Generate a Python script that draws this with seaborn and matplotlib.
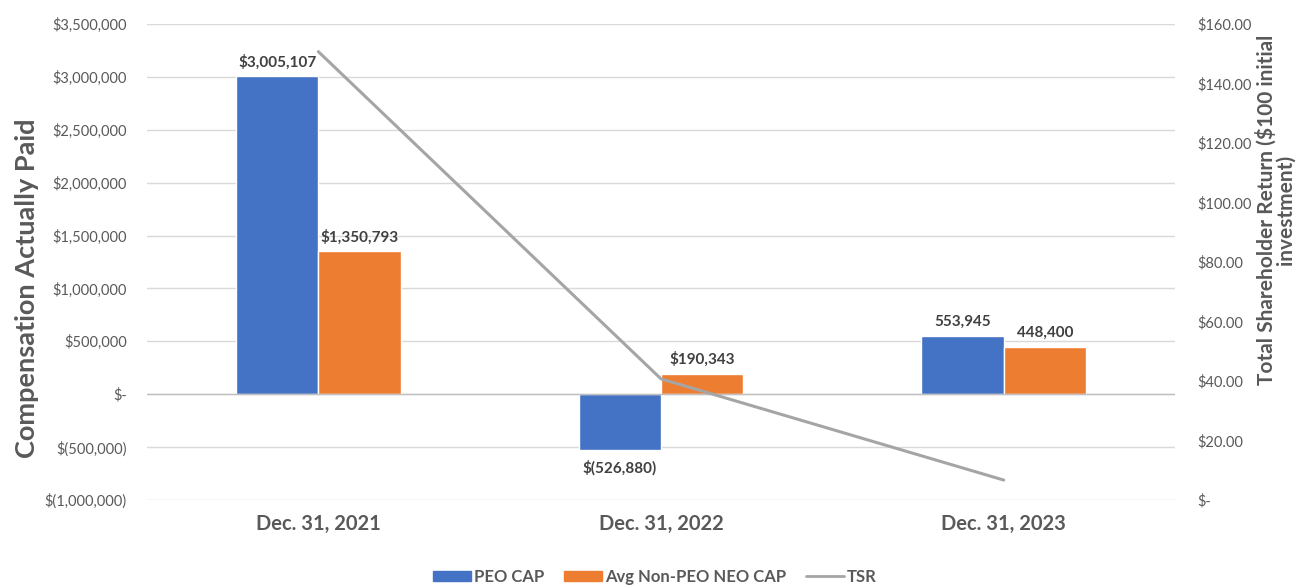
import pandas as pd
import numpy as np
import matplotlib.pyplot as plt
import seaborn as sns
from matplotlib.ticker import FuncFormatter, MultipleLocator
from matplotlib.patches import Patch
from matplotlib.lines import Line2D

years = ['Dec. 31, 2021', 'Dec. 31, 2022', 'Dec. 31, 2023']
peo_cap = [3005107, -526880, 553945]
non_peo_cap = [1350793, 190343, 448400]
tsr = [150.7, 40.7, 6.7]
peo_labels = ['$3,005,107', '$(526,880)', '553,945']
non_peo_labels = ['$1,350,793', '$190,343', '448,400']

sns.set_theme(style='white')
plt.rcParams['font.family'] = ['Lato', 'DejaVu Sans']

grey = '#595959'
blue = '#4472c4'
orange = '#ed7d31'

df = pd.DataFrame({
    'Year': years * 2,
    'Series': ['PEO CAP'] * 3 + ['Avg Non-PEO NEO CAP'] * 3,
    'Value': peo_cap + non_peo_cap,
})

fig = plt.figure(figsize=(13.09, 5.85), dpi=100)
ax1 = fig.add_axes([0.1123, 0.1453, 0.7854, 0.8137])

sns.barplot(data=df, x='Year', y='Value', hue='Series', palette=[blue, orange],
            width=0.48, gap=0, dodge=True, ax=ax1, legend=False, saturation=1)

ax1.set_ylim(-1000000, 3500000)
ax1.set_xlim(-0.5, 2.5)
ax1.yaxis.set_major_locator(MultipleLocator(500000))


def money_fmt(v, _):
    if abs(v) < 1:
        return '$-'
    if v < 0:
        return f'$({abs(v):,.0f})'
    return f'${v:,.0f}'


ax1.yaxis.set_major_formatter(FuncFormatter(money_fmt))
ax1.grid(axis='y', color='#d9d9d9', linewidth=1)
ax1.set_axisbelow(True)
for s in ax1.spines.values():
    s.set_visible(False)
ax1.axhline(0, color='#bfbfbf', linewidth=1, zorder=1)
ax1.tick_params(axis='y', labelsize=10.5, labelcolor=grey, length=0, pad=14.5)
ax1.tick_params(axis='x', labelsize=14.5, labelcolor=grey, length=0, pad=10)
for lbl in ax1.get_xticklabels():
    lbl.set_fontweight('bold')
ax1.set_xlabel('')
ax1.set_ylabel('Compensation Actually Paid', fontsize=19.5, fontweight='bold', color=grey)
ax1.yaxis.set_label_coords(-0.105, 0.445)

# bar labels
for container, labels in zip(ax1.containers, [peo_labels, non_peo_labels]):
    for rect, text in zip(container, labels):
        h = rect.get_height()
        xc = rect.get_x() + rect.get_width() / 2
        if h >= 0:
            ax1.annotate(text, (xc, h), xytext=(0, 5), textcoords='offset points',
                         ha='center', va='bottom', fontsize=11, fontweight='bold', color='#404040')
        else:
            ax1.annotate(text, (xc, h), xytext=(0, -7), textcoords='offset points',
                         ha='center', va='top', fontsize=11, fontweight='bold', color='#404040')

ax2 = ax1.twinx()
ax2.plot(np.arange(len(years)), tsr, color='#a5a5a5', linewidth=2.2)
ax2.set_ylim(0, 160)
ax2.yaxis.set_major_locator(MultipleLocator(20))
ax2.yaxis.set_major_formatter(FuncFormatter(lambda v, _: '$-' if v == 0 else f'${v:,.2f}'))
ax2.tick_params(axis='y', labelsize=10.5, labelcolor=grey, length=0, pad=16)
for s in ax2.spines.values():
    s.set_visible(False)
ax2.grid(False)
ax2.set_ylabel('Total Shareholder Return ($100 initial\ninvestment)', fontsize=15,
               fontweight='bold', color=grey, linespacing=0.95)
ax2.yaxis.set_label_coords(1.078, 0.61)

handles = [Patch(color=blue, label='PEO CAP'),
           Patch(color=orange, label='Avg Non-PEO NEO CAP'),
           Line2D([0], [0], color='#a5a5a5', linewidth=2, label='TSR')]
leg = fig.legend(handles=handles, loc='center', bbox_to_anchor=(0.5, 0.014), ncol=3,
                 frameon=False, fontsize=12, handlelength=2.3, handleheight=0.55,
                 columnspacing=1.2, handletextpad=0.15)
for t in leg.get_texts():
    t.set_color(grey)
    t.set_fontweight('bold')

fig.savefig('out.png', dpi=100)
